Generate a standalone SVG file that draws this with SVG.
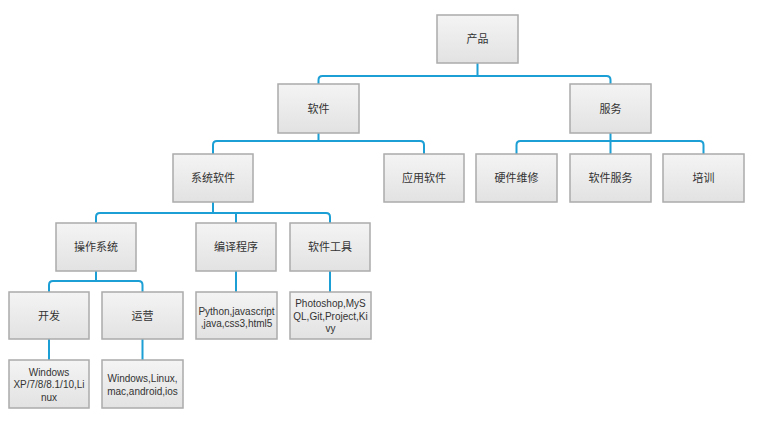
<svg xmlns="http://www.w3.org/2000/svg" width="765" height="424" viewBox="0 0 765 424">
<style>
.box{fill:url(#g);stroke:#ababab;stroke-width:1.5}
.zh{font-family:"Noto Sans CJK SC","Noto Sans",sans-serif;font-size:11px;fill:#333;text-anchor:middle}
.en{font-family:"Liberation Sans",Arial,sans-serif;font-size:10px;fill:#333;text-anchor:middle}
.c{fill:none;stroke:#1c9fd4;stroke-width:2}
</style>
<defs>
<linearGradient id="g" x1="0" y1="0" x2="0" y2="1">
<stop offset="0" stop-color="#f4f4f4"/>
<stop offset="1" stop-color="#e2e2e2"/>
</linearGradient>
</defs>
<rect width="765" height="424" fill="#fff"/>
<g id="connectors">
<path class="c" d="M477.5,63V76M318.5,84V80Q318.5,76 322.5,76H606.5Q610.5,76 610.5,80V84"/>
<path class="c" d="M318.5,133V141M213,154V145Q213,141 217,141H420Q424,141 424,145V154"/>
<path class="c" d="M610.5,133V154M516.5,154V145Q516.5,141 520.5,141H699.5Q703.5,141 703.5,145V154"/>
<path class="c" d="M213,202V213M96,223V217Q96,213 100,213H326Q330,213 330,217V223M236,213V223"/>
<path class="c" d="M96,271V281M49,292V285Q49,281 53,281H138.5Q142.5,281 142.5,285V292"/>
<path class="c" d="M236,271V292M330,271V292M49,339V360M142.5,339V360"/>
</g>
<g id="n-chanpin"><rect class="box" x="437" y="15" width="81" height="48"/><text class="zh" x="477.5" y="43">产品</text></g>
<g id="n-ruanjian"><rect class="box" x="278" y="84" width="81" height="49"/><text class="zh" x="318.5" y="112.5">软件</text></g>
<g id="n-fuwu"><rect class="box" x="570" y="84" width="81" height="49"/><text class="zh" x="610.5" y="112.5">服务</text></g>
<g id="n-xitong"><rect class="box" x="173" y="154" width="80" height="48"/><text class="zh" x="213" y="182">系统软件</text></g>
<g id="n-yingyong"><rect class="box" x="384" y="154" width="80" height="48"/><text class="zh" x="424" y="182">应用软件</text></g>
<g id="n-yingjian"><rect class="box" x="476" y="154" width="81" height="48"/><text class="zh" x="516.5" y="182">硬件维修</text></g>
<g id="n-ruanjianfuwu"><rect class="box" x="570" y="154" width="81" height="48"/><text class="zh" x="610.5" y="182">软件服务</text></g>
<g id="n-peixun"><rect class="box" x="663" y="154" width="81" height="48"/><text class="zh" x="703.5" y="182">培训</text></g>
<g id="n-caozuo"><rect class="box" x="56" y="223" width="80" height="48"/><text class="zh" x="96" y="251">操作系统</text></g>
<g id="n-bianyi"><rect class="box" x="196" y="223" width="80" height="48"/><text class="zh" x="236" y="251">编译程序</text></g>
<g id="n-gongju"><rect class="box" x="290" y="223" width="80" height="48"/><text class="zh" x="330" y="251">软件工具</text></g>
<g id="n-kaifa"><rect class="box" x="9" y="292" width="80" height="47"/><text class="zh" x="49" y="319.5">开发</text></g>
<g id="n-yunying"><rect class="box" x="102" y="292" width="81" height="47"/><text class="zh" x="142.5" y="319.5">运营</text></g>
<g id="n-python"><rect class="box" x="196" y="292" width="81" height="47"/><text class="en" x="236.5" y="315">Python,javascript</text><text class="en" x="236.5" y="327">,java,css3,html5</text></g>
<g id="n-photoshop"><rect class="box" x="290" y="292" width="81" height="47"/><text class="en" x="330.5" y="307">Photoshop,MyS</text><text class="en" x="330.5" y="319.5">QL,Git,Project,Ki</text><text class="en" x="330.5" y="332">vy</text></g>
<g id="n-winxp"><rect class="box" x="9" y="360" width="80" height="48"/><text class="en" x="49" y="375.5">Windows</text><text class="en" x="49" y="388">XP/7/8/8.1/10,Li</text><text class="en" x="49" y="400.5">nux</text></g>
<g id="n-winlinux"><rect class="box" x="102" y="360" width="81" height="48"/><text class="en" x="142.5" y="382">Windows,Linux,</text><text class="en" x="142.5" y="394.5">mac,android,ios</text></g>
</svg>
